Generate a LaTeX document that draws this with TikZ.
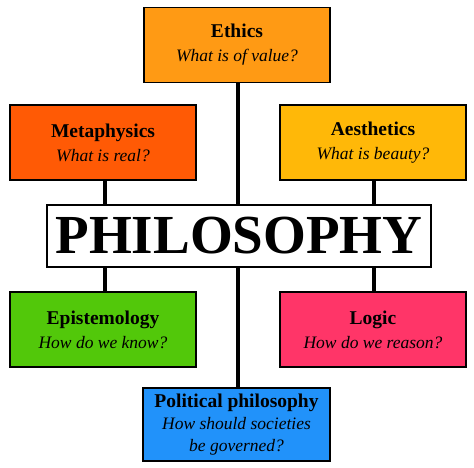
\documentclass[tikz,border=0pt]{standalone}
\usepackage{fontspec}
\setmainfont{Liberation Serif}
\newcommand{\hd}[1]{{\fontsize{19.5}{23}\selectfont\bfseries #1}}
\newcommand{\qs}[1]{{\fontsize{17.5}{23}\selectfont\itshape #1}}
\begin{document}
\begin{tikzpicture}[x=1pt,y=-1pt,
  topic/.style={draw=black,line width=1.5pt,minimum width=186pt,minimum height=75pt,align=center,inner sep=0pt,font=\fontsize{17.5}{24}\selectfont},
  link/.style={line width=4pt,black}]
\useasboundingbox (0,0) rectangle (474,467);
\definecolor{cEthics}{HTML}{FF9A14}
\definecolor{cMeta}{HTML}{FF5A05}
\definecolor{cAes}{HTML}{FFB808}
\definecolor{cEpi}{HTML}{52C80A}
\definecolor{cLogic}{HTML}{FF3568}
\definecolor{cPol}{HTML}{2192FA}
\node[topic,fill=cEthics] (eth) at (237,45) {\hd{Ethics}\\\qs{What is of value?}};
\node[topic,fill=cMeta] (met) at (103,142.5) {\hd{Metaphysics}\\\qs{What is real?}};
\node[topic,fill=cAes] (aes) at (373,142.5) {\hd{Aesthetics}\\\qs{What is beauty?}};
\node[topic,fill=cEpi] (epi) at (103,329.5) {\hd{Epistemology}\\\qs{How do we know?}};
\node[topic,fill=cLogic] (log) at (373,329.5) {\hd{Logic}\\\qs{How do we reason?}};
\node[topic,fill=cPol,minimum width=187pt,minimum height=73pt,font=\fontsize{17.5}{22}\selectfont] (pol) at (236.5,424.5) {\hd{Political philosophy}\\\qs{How should societies}\\\qs{be governed?}};
\draw[link] (eth.south -| 238,0) -- (pol.north -| 238,0);
\draw[link] (met.south -| 105,0) -- (epi.north -| 105,0);
\draw[link] (aes.south -| 374,0) -- (log.north -| 374,0);
\node[draw=black,line width=1.5pt,fill=white,minimum width=384pt,minimum height=62pt,inner sep=0pt] (phil) at (239,236) {\resizebox{367pt}{!}{\bfseries PHILOSOPHY}};
\end{tikzpicture}
\end{document}
